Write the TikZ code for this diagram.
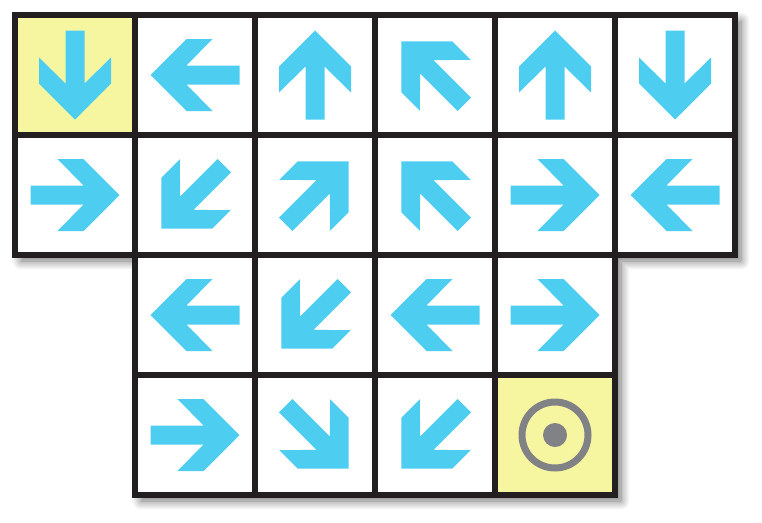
\documentclass[tikz,border=0pt]{standalone}
\usetikzlibrary{shadows.blur}
\definecolor{arrowc}{RGB}{77,205,240}
\definecolor{celly}{RGB}{247,246,160}
\definecolor{gridc}{RGB}{35,31,32}
\definecolor{targc}{RGB}{128,130,133}
\tikzset{
  arrowshape/.style={fill=arrowc},
  gridline/.style={draw=gridc,line width=6pt,line cap=rect},
  outline/.style={draw=gridc,line width=6pt,line join=miter},
}
\newcommand\myarrow[4]{%
  \fill[arrowshape,shift={(#1,#2)},rotate=#3,xshift=#4pt]
    (-44.5,-9.5)--(8.5,-9.5)--(-17.5,-36)--(8.5,-36)--(44.5,0)--(8.5,36)--(-17.5,36)--(8.5,9.5)--(-44.5,9.5)--cycle;}
\begin{document}
\begin{tikzpicture}[x=1pt,y=-1pt]
\useasboundingbox (0,0) rectangle (762,522);
% shadowed white background
\fill[white,blur shadow={shadow xshift=6pt,shadow yshift=-6pt,shadow blur radius=9pt,shadow blur steps=12,shadow opacity=55}]
  (15,15)--(735,15)--(735,255)--(615,255)--(615,495)--(135,495)--(135,255)--(15,255)--cycle;
% yellow cells
\fill[celly] (15,15) rectangle (135,135);
\fill[celly] (495,375) rectangle (615,495);
% arrows row 0
\myarrow{75}{75}{270}{0}
\myarrow{195}{75}{180}{0}
\myarrow{315}{75}{90}{0}
\myarrow{435}{75}{135}{3}
\myarrow{555}{75}{90}{0}
\myarrow{675}{75}{270}{0}
% row 1
\myarrow{75}{195}{0}{0}
\myarrow{195}{195}{225}{3}
\myarrow{315}{195}{45}{3}
\myarrow{435}{195}{135}{3}
\myarrow{555}{195}{0}{0}
\myarrow{675}{195}{180}{0}
% row 2
\myarrow{195}{315}{180}{0}
\myarrow{315}{315}{225}{3}
\myarrow{435}{315}{180}{0}
\myarrow{555}{315}{0}{0}
% row 3
\myarrow{195}{435}{0}{0}
\myarrow{315}{435}{315}{3}
\myarrow{435}{435}{225}{3}
% target
\draw[targc,line width=7pt] (555,435) circle[radius=33pt];
\fill[targc] (555,435) circle[radius=12pt];
% grid lines
\foreach \x in {135,255,375,495,615} \draw[gridline] (\x,15)--(\x,255);
\foreach \x in {255,375,495} \draw[gridline] (\x,255)--(\x,495);
\draw[gridline] (15,135)--(735,135);
\draw[gridline] (135,375)--(615,375);
\draw[gridline] (135,255)--(615,255);
\draw[outline] (15,15)--(735,15)--(735,255)--(615,255)--(615,495)--(135,495)--(135,255)--(15,255)--cycle;
\end{tikzpicture}
\end{document}
